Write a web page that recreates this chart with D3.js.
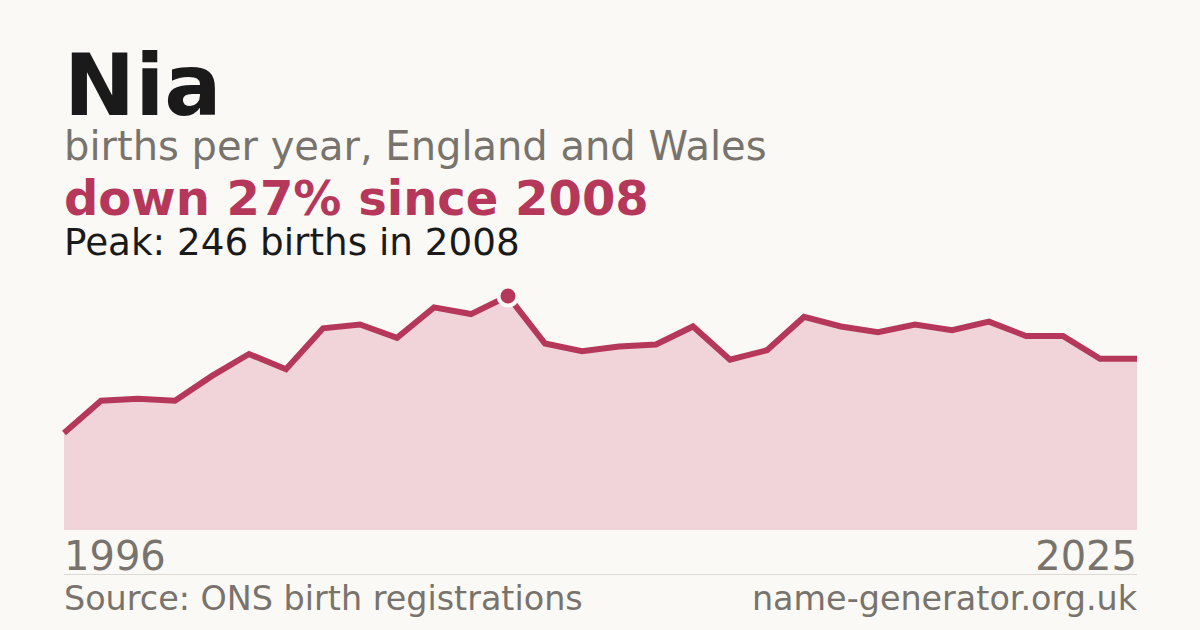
<!DOCTYPE html>
<html>
<head>
<meta charset="utf-8">
<script src="https://cdn.jsdelivr.net/npm/d3@7"></script>
<style>
  html, body { margin: 0; padding: 0; background: #faf9f5; }
  svg { display: block; font-family: "DejaVu Sans", sans-serif; }
</style>
</head>
<body>
<script>
// data: births per year
var years = [1996, 1997, 1998, 1999, 2000, 2001, 2002, 2003, 2004, 2005,
  2006, 2007, 2008, 2009, 2010, 2011, 2012, 2013, 2014, 2015,
  2016, 2017, 2018, 2019, 2020, 2021, 2022, 2023, 2024, 2025];
var births = [102, 136, 138, 136, 162, 185, 169, 212, 216, 202,
  234, 227, 246, 196, 188, 193, 195, 214, 179, 189,
  224, 214, 208, 216, 210, 219, 204, 204, 180, 180];
var axisLabels = ['1996', '2025'];

var svgWidth = 1200;
var svgHeight = 630;
// plot area
var margin = { left: 64, right: 63, top: 296, bottom: 100 };
var red = '#b5385a';
var grey = '#78736d';

var chartData = years.map((y, i) => ({ year: y, value: births[i] }));
var peak = chartData.reduce((a, b) => (b.value > a.value ? b : a));
var last = chartData[chartData.length - 1];
var change = Math.round((last.value - peak.value) / peak.value * 100);

var svg = d3.select('body')
  .append('svg')
  .attr('width', svgWidth)
  .attr('height', svgHeight);

svg.append('rect')
  .attr('width', svgWidth)
  .attr('height', svgHeight)
  .attr('fill', '#faf9f5');

var x = d3.scaleLinear()
  .domain(d3.extent(years))
  .range([margin.left, svgWidth - margin.right]);
var y = d3.scaleLinear()
  .domain([0, peak.value])
  .range([svgHeight - margin.bottom, margin.top]);

// headings
svg.append('text')
  .attr('x', 64).attr('y', 115)
  .attr('font-size', 85).attr('font-weight', 'bold')
  .attr('fill', '#1a1a1a')
  .text('Nia');
svg.append('text')
  .attr('x', 64).attr('y', 160)
  .attr('font-size', 40)
  .attr('fill', grey)
  .text('births per year, England and Wales');
svg.append('text')
  .attr('x', 64).attr('y', 215)
  .attr('font-size', 48).attr('font-weight', 'bold')
  .attr('fill', red)
  .text('down ' + Math.abs(change) + '% since ' + peak.year);
svg.append('text')
  .attr('x', 64).attr('y', 255)
  .attr('font-size', 37.3)
  .attr('fill', '#1a1a1a')
  .text('Peak: ' + peak.value + ' births in ' + peak.year);

// area + line
var area = d3.area()
  .x(d => x(d.year))
  .y0(y(0))
  .y1(d => y(d.value));
var line = d3.line()
  .x(d => x(d.year))
  .y(d => y(d.value));

svg.append('path')
  .datum(chartData)
  .attr('d', area)
  .attr('fill', '#f0d4d9');
svg.append('path')
  .datum(chartData)
  .attr('d', line)
  .attr('fill', 'none')
  .attr('stroke', red)
  .attr('stroke-width', 6);

// peak marker
svg.append('circle')
  .attr('cx', x(peak.year))
  .attr('cy', y(peak.value))
  .attr('r', 9.5)
  .attr('fill', red)
  .attr('stroke', '#faf9f5')
  .attr('stroke-width', 4);

// year labels
svg.append('text')
  .attr('x', x(years[0])).attr('y', 570)
  .attr('font-size', 40).attr('fill', grey)
  .text(axisLabels[0]);
svg.append('text')
  .attr('x', x(years[years.length - 1])).attr('y', 570)
  .attr('text-anchor', 'end')
  .attr('font-size', 40).attr('fill', grey)
  .text(axisLabels[1]);

// footer
svg.append('line')
  .attr('x1', margin.left).attr('x2', svgWidth - margin.right)
  .attr('y1', 574.5).attr('y2', 574.5)
  .attr('stroke', '#dddad3').attr('stroke-width', 1);
svg.append('text')
  .attr('x', 64).attr('y', 610)
  .attr('font-size', 33.4).attr('fill', grey)
  .text('Source: ONS birth registrations');
svg.append('text')
  .attr('x', svgWidth - margin.right).attr('y', 610)
  .attr('text-anchor', 'end')
  .attr('font-size', 33.4).attr('fill', grey)
  .text('name-generator.org.uk');
</script>
</body>
</html>
